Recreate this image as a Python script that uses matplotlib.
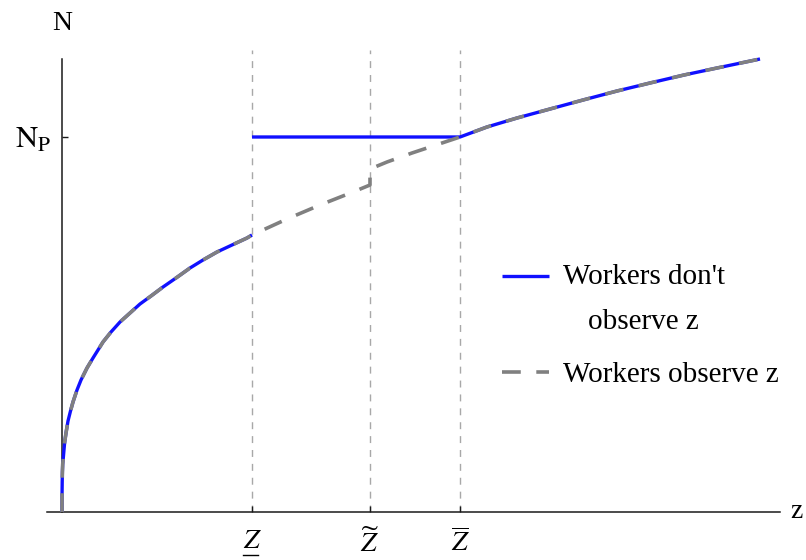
import numpy as np
import matplotlib
matplotlib.use("Agg")
import matplotlib.pyplot as plt
import matplotlib.transforms as mtransforms
from matplotlib.legend_handler import HandlerLine2D

plt.rcParams["font.family"] = ["Liberation Serif", "DejaVu Serif"]
plt.rcParams["mathtext.fontset"] = "stix"

# thresholds on the z axis and the pooled level
Z_LOW, Z_TILDE, Z_HIGH = 1.90, 3.08, 3.98
N_P = 3.75

# N(z) below the lower threshold
z_left = [0.0, 0.0005, 0.002, 0.004, 0.007, 0.012, 0.018, 0.027, 0.04, 0.06,
          0.085, 0.11, 0.15, 0.19, 0.25, 0.31, 0.36, 0.41, 0.49, 0.58, 0.68,
          0.78, 0.89, 1.01, 1.14, 1.28, 1.41, 1.55, 1.70, 1.85, 1.90]
n_left = [0.0, 0.18, 0.30, 0.40, 0.48, 0.53, 0.60, 0.70, 0.79, 0.91,
          1.01, 1.10, 1.22, 1.32, 1.44, 1.54, 1.62, 1.70, 1.80, 1.90, 1.99,
          2.08, 2.16, 2.25, 2.34, 2.44, 2.52, 2.60, 2.67, 2.74, 2.77]

# N(z) above the upper threshold
z_right = [3.98, 4.25, 4.55, 4.88, 5.21, 5.55, 5.88, 6.22, 6.55, 6.98]
n_right = [3.75, 3.85, 3.94, 4.03, 4.12, 4.21, 4.29, 4.37, 4.44, 4.53]

# observed-z path between the thresholds (jumps at z tilde)
z_mid = [1.90, 2.25, 2.58, 2.91, 3.08, 3.08, 3.25, 3.50, 3.83, 3.98]
n_mid = [2.77, 2.93, 3.07, 3.20, 3.27, 3.43, 3.50, 3.59, 3.70, 3.75]

xtick_pos = [Z_LOW, Z_TILDE, Z_HIGH]
xtick_labels = [r"$Z$", r"$\widetilde{Z}$", r"$\overline{Z}$"]

BLUE = "#1010ff"
GRAY = "#808080"
FS = 20
LEG_FS = 21


class FirstLineHandler(HandlerLine2D):
    """Line handle placed at the first line of a two-line label."""

    def __init__(self, shift, **kw):
        super().__init__(**kw)
        self.shift = shift

    def create_artists(self, legend, orig_handle, xdescent, ydescent,
                       width, height, fontsize, trans):
        arts = super().create_artists(legend, orig_handle, xdescent, ydescent,
                                      width, height, fontsize, trans)
        for a in arts:
            a.set_ydata(np.asarray(a.get_ydata()) + self.shift)
        return arts


fig = plt.figure(figsize=(8.06, 5.6), dpi=100)
ax = fig.add_axes([47 / 806, 48 / 560, 733 / 806, 462 / 560])

# don't-observe case: curve, pooled flat part, curve again
z_blue = z_left + [np.nan] + [Z_LOW] + z_right
n_blue = n_left + [np.nan] + [N_P] + n_right
blue_line, = ax.plot(z_blue, n_blue, color=BLUE, lw=2.4,
                     solid_capstyle="butt", zorder=3,
                     label="Workers don't\nobserve z")

# observe case drawn on top, dashed
z_gray = z_left + z_mid[1:] + z_right[1:]
n_gray = n_left + n_mid[1:] + n_right[1:]
gray_line, = ax.plot(z_gray, n_gray, color=GRAY, lw=2.6,
                     dashes=(5.2, 4.3), zorder=4,
                     label="Workers observe z")

# guide lines at the thresholds
for zv in xtick_pos:
    ax.axvline(zv, color="#a8a8a8", lw=1.0, dashes=(5, 5), zorder=1)

ax.set_xlim(-0.15, 7.18)
ax.set_ylim(0, 4.62)

for side in ("top", "right"):
    ax.spines[side].set_visible(False)
ax.spines["left"].set_position(("data", 0))
ax.spines["left"].set_bounds(0, 4.53)
for side in ("left", "bottom"):
    ax.spines[side].set_color("#1a1a1a")
    ax.spines[side].set_linewidth(1.1)

ax.set_xticks(xtick_pos, xtick_labels)
ax.set_yticks([N_P], [r"$\mathrm{N}_{\mathrm{P}}$"])
ax.tick_params(axis="x", direction="in", length=4, width=1.0,
               labelsize=FS, pad=12, color="#1a1a1a")
ax.tick_params(axis="y", direction="in", length=4, width=1.0,
               labelsize=FS + 2, pad=8, color="#1a1a1a")

# underline for the lower threshold label
ul = mtransforms.blended_transform_factory(ax.transData, ax.transAxes)
ax.plot([Z_LOW - 0.09, Z_LOW + 0.06], [-0.093, -0.093], color="black",
        lw=1.0, transform=ul, clip_on=False)

# axis names
ax.text(0, 1.058, "N", transform=ul, ha="center", va="center", fontsize=FS)
ax.text(1.023, -0.013, "z", transform=ax.transAxes, ha="center",
        va="baseline", fontsize=FS)

leg = ax.legend(handles=[blue_line, gray_line], loc="upper left",
                bbox_to_anchor=(502 / 806, 1 - 264 / 560),
                bbox_transform=fig.transFigure, frameon=False,
                fontsize=LEG_FS, handlelength=1.6, handletextpad=0.48,
                borderpad=0, borderaxespad=0, labelspacing=0.89,
                handler_map={blue_line: FirstLineHandler(shift=17)})
for t in leg.get_texts():
    t.set_multialignment("center")
    t.set_linespacing(1.97)

fig.savefig("out.png", dpi=100)
